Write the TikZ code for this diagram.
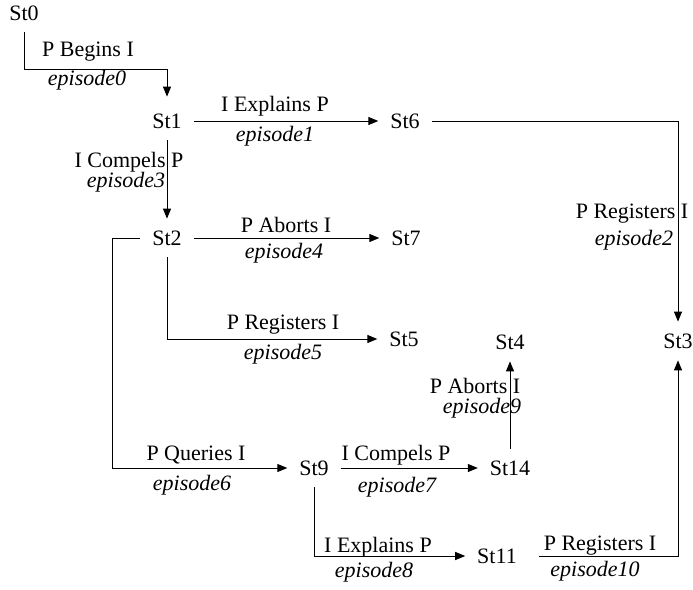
\documentclass[tikz,border=0pt]{standalone}
\usepackage{fontspec}
\setmainfont{Liberation Serif}
\usetikzlibrary{arrows.meta}
\begin{document}
\begin{tikzpicture}[x=1pt,y=-1pt,
  state/.style={inner xsep=12pt, inner ysep=12pt, outer sep=0pt, font=\fontsize{22}{24}\selectfont},
  lbl/.style={inner sep=0pt, font=\fontsize{22}{24}\selectfont},
  epi/.style={inner sep=0pt, font=\fontsize{22}{24}\selectfont\itshape},
  conn/.style={line width=1pt, -{Triangle[length=10pt,width=8pt]}},
  plain/.style={line width=1pt}]
\useasboundingbox (0,0) rectangle (693,589);
% states
\node[state] (st0)  at (24,13)   {St0};
\node[state] (st1)  at (167,121) {St1};
\node[state] (st6)  at (405,121) {St6};
\node[state] (st2)  at (167,238) {St2};
\node[state] (st7)  at (406,238) {St7};
\node[state] (st5)  at (404,339) {St5};
\node[state] (st4)  at (510,342) {St4};
\node[state] (st3)  at (678,341) {St3};
\node[state] (st9)  at (314,468) {St9};
\node[state] (st14) at (510,468) {St14};
\node[state] (st11) at (497,556) {St11};
% connectors
\draw[conn, shorten >=5pt] (st0.south) |- ([yshift=32pt]st1.north) -- (st1.north);
\draw[conn] (st1.east) -- (st6.west);
\draw[conn] (st6.east) -| (st3.north);
\draw[conn] (st1.south) -- (st2.north);
\draw[conn] (st2.east) -- (st7.west);
\draw[conn] (st2.south) |- (st5.west);
\draw[conn] (st2.west) -- ([xshift=-28pt]st2.west) |- (st9.west);
\draw[conn] (st9.east) -- (st14.west);
\draw[conn] (st9.south) |- (st11.west);
\draw[conn] (st14.north) -- (st4.south);
\draw[conn, shorten <=10pt] (st11.east) -| (st3.south);
% labels
\node[lbl] (l0a) at (88,52)  {P Begins I};
\node[epi] (l0b) at (87,80)  {episode0};
\node[lbl] (l1a) at (275,106) {I Explains P};
\node[epi] (l1b) at (275,136) {episode1};
\node[lbl] (l2a) at (632,214) {P Registers I};
\node[epi] (l2b) at (634,240) {episode2};
\node[lbl] (l3a) at (129,162) {I Compels P};
\node[epi] (l3b) at (126,182) {episode3};
\node[lbl] (l4a) at (286,225) {P Aborts I};
\node[epi] (l4b) at (284,253) {episode4};
\node[lbl] (l5a) at (283,325) {P Registers I};
\node[epi] (l5b) at (283,354) {episode5};
\node[lbl] (l6a) at (196,455) {P Queries I};
\node[epi] (l6b) at (192,485) {episode6};
\node[lbl] (l7a) at (396,455) {I Compels P};
\node[epi] (l7b) at (397,487) {episode7};
\node[lbl] (l8a) at (378,547) {I Explains P};
\node[epi] (l8b) at (374,572) {episode8};
\node[lbl] (l9a) at (475,386) {P Aborts I};
\node[epi] (l9b) at (482,408) {episode9};
\node[lbl] (l10a) at (600,546) {P Registers I};
\node[epi] (l10b) at (595,571) {episode10};
\end{tikzpicture}
\end{document}
